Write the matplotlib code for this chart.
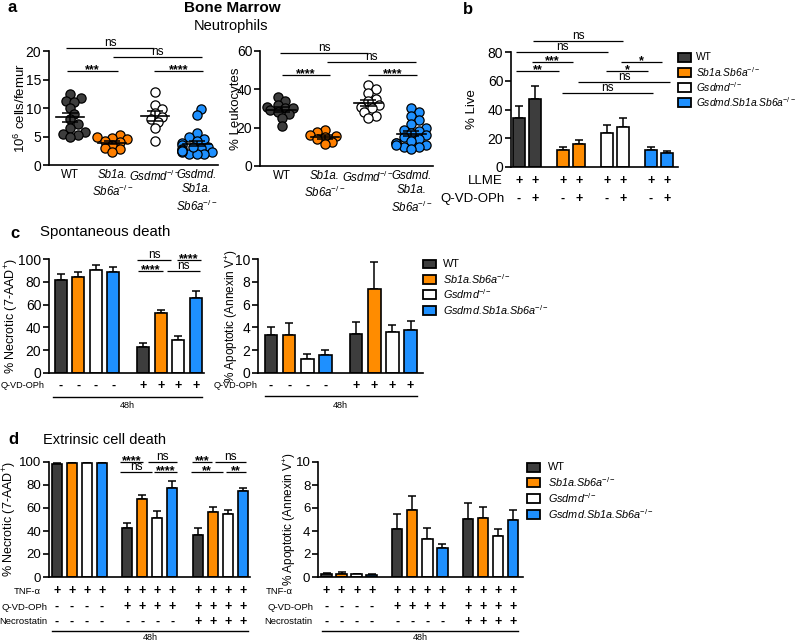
import numpy as np
import matplotlib
matplotlib.use("Agg")
import matplotlib.pyplot as plt
from matplotlib.patches import Rectangle
from matplotlib.lines import Line2D
from matplotlib.transforms import blended_transform_factory

plt.rcParams['font.family'] = ['Liberation Sans', 'DejaVu Sans']
plt.rcParams['mathtext.fontset'] = 'custom'
plt.rcParams['mathtext.rm'] = 'Liberation Sans'
plt.rcParams['mathtext.it'] = 'Liberation Sans:italic'
plt.rcParams['mathtext.bf'] = 'Liberation Sans:bold'

# ---------------- data ----------------
genotypes = ["WT", "Sb1a.Sb6a-/-", "Gsdmd-/-", "Gsdmd.Sb1a.Sb6a-/-"]
geno_colors = ["#3d3d3d", "#FF8C00", "#FFFFFF", "#1E90FF"]
point_colors = ["#3d3d3d", "#FF7F00", "#FFFFFF", "#1E90FF"]

# panel a: neutrophil counts (10^6 cells/femur)
a_count_wt = [12.5, 11.8, 11.2, 11.0, 10.0, 9.0, 8.0, 7.2, 6.5, 5.8, 5.5, 5.2, 5.0]
a_count_sb = [5.2, 5.0, 4.8, 4.5, 4.2, 4.0, 3.5, 3.0, 2.8, 2.2]
a_count_gs = [12.8, 10.6, 9.8, 9.2, 8.5, 8.0, 7.5, 6.5, 4.2]
a_count_gsb = [9.8, 8.8, 5.6, 5.0, 4.6, 4.2, 3.8, 3.5, 3.2, 3.0, 2.8, 2.6,
               2.4, 2.2, 2.0, 2.0, 1.9, 2.3, 3.1, 2.5]
# panel a: % leukocytes
a_pct_wt = [36, 34, 32, 31, 30, 30, 29, 28, 27, 25, 21]
a_pct_sb = [19, 17.5, 16, 15.5, 15, 14, 12.5, 11.5]
a_pct_gs = [42, 40, 38, 35, 34, 32, 31, 30, 28, 26, 25]
a_pct_gsb = [30, 28, 26, 24, 22, 20, 19, 18, 17, 16, 15, 14, 13, 12, 11,
             10, 10, 9, 12, 11]

# panel b: % live
b_mean = [34, 47, 12, 16, 23.5, 28, 12, 10]
b_err = [8.5, 9.5, 2, 3, 5.5, 6, 1.8, 1.4]
b_geno = [0, 0, 1, 1, 2, 2, 3, 3]
b_llme = ["+", "+", "+", "+", "+", "+", "+", "+"]
b_qvd = ["-", "+", "-", "+", "-", "+", "-", "+"]

# panel c: spontaneous death
c_necrotic = [82, 84, 90.5, 89, 22.5, 52.5, 29, 65.5]
c_necrotic_err = [4.5, 4.5, 4, 3.8, 3.5, 2.8, 3.5, 6]
c_apoptotic = [3.3, 3.3, 1.2, 1.6, 3.4, 7.4, 3.6, 3.8]
c_apoptotic_err = [0.75, 1.05, 0.45, 0.4, 1.1, 2.35, 0.6, 0.8]
c_qvd = ["-", "-", "-", "-", "+", "+", "+", "+"]

# panel d: extrinsic cell death
d_necrotic = [98, 99, 99.5, 99.5, 43, 67.5, 51.5, 77.5, 36.5, 56.5, 54.5, 74.5]
d_necrotic_err = [1, 0.6, 0.2, 0.2, 4, 3.5, 5.5, 6, 6.5, 4.5, 3.5, 3]
d_apoptotic = [0.25, 0.3, 0.25, 0.2, 4.2, 5.8, 3.3, 2.55, 5.05, 5.15, 3.6, 5.0]
d_apoptotic_err = [0.08, 0.15, 0.05, 0.05, 1.3, 1.25, 0.95, 0.35, 1.4, 0.9, 0.55, 0.85]
d_tnf = ["+"] * 12
d_qvd = ["-", "-", "-", "-", "+", "+", "+", "+", "+", "+", "+", "+"]
d_nec = ["-", "-", "-", "-", "-", "-", "-", "-", "+", "+", "+", "+"]

# ---------------- labels ----------------
KO = r"$^{-/-}$"
legend_labels = ["WT", "Sb1a.Sb6a" + KO, "Gsdmd" + KO, "Gsdmd.Sb1a.Sb6a" + KO]
legend_italic = [False, True, True, True]
a_ticklabels = ["WT", "Sb1a.\nSb6a" + KO, "Gsdmd" + KO, "Gsdmd.\nSb1a.\nSb6a" + KO]

W, H = 800, 643
fig = plt.figure(figsize=(W / 100, H / 100), dpi=100)


def box(l, t, r, b):
    return [l / W, 1 - b / H, (r - l) / W, (b - t) / H]


def style(ax, ymax, yticks, fs):
    ax.set_ylim(0, ymax)
    ax.set_yticks(yticks)
    for s in ["top", "right"]:
        ax.spines[s].set_visible(False)
    for s in ["left", "bottom"]:
        ax.spines[s].set_linewidth(1.2)
    ax.tick_params(axis="y", length=4, width=1.2, labelsize=fs, pad=1.5)
    ax.patch.set_alpha(0)


def ylabel_at(ax, text, px_right, fs):
    bb = ax.get_position()
    ax.set_ylabel(text, fontsize=fs)
    ax.yaxis.set_label_coords((px_right / W - bb.x0) / bb.width, 0.5)


def sig(ax, x0, x1, y, label, fs=8.5):
    ax.plot([x0, x1], [y, y], color="black", lw=0.9, clip_on=False,
            solid_capstyle="butt")
    star = "*" in label
    ax.annotate(label, ((x0 + x1) / 2, y), xytext=(0, -1.6 if star else 1.3),
                textcoords="offset points", ha="center", va="baseline",
                fontsize=fs + (0.5 if star else 0),
                fontweight="bold" if star else "normal",
                annotation_clip=False)


def swarm(vals, ppu_x, ppu_y, diam=9.0):
    vals = np.asarray(vals, float)
    order = np.argsort(vals)
    placed = []
    offs = np.zeros(len(vals))
    for i in order:
        y = vals[i] * ppu_y
        for k in [0, 1, -1, 2, -2, 3, -3, 4, -4]:
            x = k * diam * 0.42
            if all((x - px) ** 2 + (y - py) ** 2 >= (diam * 0.72) ** 2 for px, py in placed):
                break
        placed.append((x, y))
        offs[i] = x / ppu_x
    return offs


def scatter_panel(ax, groups, ppu_x, ppu_y):
    for i, vals in enumerate(groups):
        offs = swarm(vals, ppu_x, ppu_y)
        ax.scatter(i + offs, vals, s=44, c=point_colors[i], edgecolors="black",
                   linewidths=0.9, zorder=2, clip_on=False)
        m = np.mean(vals)
        sem = np.std(vals, ddof=1) / np.sqrt(len(vals))
        ax.plot([i - 0.33, i + 0.33], [m, m], color="black", lw=1.2, zorder=3)
        ax.errorbar([i], [m], yerr=[sem], fmt="none", ecolor="black",
                    elinewidth=1.1, capsize=6, capthick=1.1, zorder=3)
    ax.set_xlim(-0.5, 3.5)
    ax.set_xticks(range(4))
    ax.set_xticklabels(a_ticklabels, fontsize=8.3, linespacing=1.25)
    for lab, it in zip(ax.get_xticklabels(), legend_italic):
        lab.set_fontstyle("italic" if it else "normal")
    ax.tick_params(axis="x", length=0, pad=3)


def bar_panel(ax, xs, vals, errs, colors, width):
    ax.bar(xs, vals, width=width, color=colors, edgecolor="black",
           linewidth=1.2, zorder=2)
    ax.errorbar(xs, vals, yerr=[np.zeros(len(errs)), errs], fmt="none",
                ecolor="black", elinewidth=1.1, capsize=3, capthick=1.1,
                zorder=1)
    ax.set_xticks([])


def rows(ax, xs, signs, py, label, label_px, fs_label=7.5, fs_sign=9):
    tr = blended_transform_factory(ax.transData, fig.transFigure)
    for x, s in zip(xs, signs):
        ax.text(x, 1 - py / H, s, transform=tr, ha="center", va="center",
                fontsize=fs_sign, fontweight="bold", clip_on=False)
    fig.text(label_px / W, 1 - py / H, label, ha="right", va="center",
             fontsize=fs_label)


def underline(ax, x0, x1, py, text_py, text="48h"):
    tr = blended_transform_factory(ax.transData, fig.transFigure)
    ax.add_line(Line2D([x0, x1], [1 - py / H] * 2, transform=tr, color="black",
                       lw=1.0, clip_on=False))
    ax.text((x0 + x1) / 2, 1 - text_py / H, text, transform=tr, ha="center",
            va="center", fontsize=6.5, clip_on=False)


def legend_at(sq_px, text_px, ys, fs=7.8):
    for col, lab, it, py in zip(geno_colors, legend_labels, legend_italic, ys):
        fig.add_artist(Rectangle((sq_px / W, 1 - (py + 4.5) / H), 13 / W, 9 / H,
                                 transform=fig.transFigure, facecolor=col,
                                 edgecolor="black", lw=1.3))
        fig.text(text_px / W, 1 - py / H, lab, ha="left", va="center", fontsize=fs,
                 fontstyle="italic" if it else "normal")


# ---------------- titles ----------------
fig.text(8 / W, 1 - 8 / H, "a", fontsize=12, fontweight="bold", va="center")
fig.text(463 / W, 1 - 9 / H, "b", fontsize=12, fontweight="bold", va="center")
fig.text(232 / W, 1 - 8 / H, "Bone Marrow", fontsize=11, fontweight="bold",
         ha="center", va="center")
fig.text(231 / W, 1 - 26 / H, "Neutrophils", fontsize=10.5, ha="center", va="center")
fig.text(10 / W, 1 - 233 / H, "c", fontsize=12, fontweight="bold", va="center")
fig.text(40 / W, 1 - 232 / H, "Spontaneous death", fontsize=10.8, va="center")
fig.text(8 / W, 1 - 440 / H, "d", fontsize=12, fontweight="bold", va="center")
fig.text(43 / W, 1 - 440 / H, "Extrinsic cell death", fontsize=10.5, va="center")

# ---------------- panel a ----------------
ax = fig.add_axes(box(49, 51, 218, 165))
style(ax, 20, [0, 5, 10, 15, 20], 10)
scatter_panel(ax, [a_count_wt, a_count_sb, a_count_gs, a_count_gsb], 42.25, 5.7)
ylabel_at(ax, r"10$^{6}$ cells/femur", 28, 9.5)
sig(ax, -0.1, 1.99, 20.5, "ns")
sig(ax, 1.02, 3.12, 18.9, "ns")
sig(ax, -0.07, 1.13, 16.5, "***")
sig(ax, 1.99, 3.15, 16.5, "****")

ax = fig.add_axes(box(260, 51, 433, 166))
style(ax, 60, [0, 20, 40, 60], 10)
scatter_panel(ax, [a_pct_wt, a_pct_sb, a_pct_gs, a_pct_gsb], 43.25, 1.917)
ylabel_at(ax, "% Leukocytes", 242, 9.5)
sig(ax, -0.04, 2.0, 59, "ns")
sig(ax, 1.05, 3.1, 54.3, "ns")
sig(ax, 0.01, 1.12, 47.5, "****")
sig(ax, 2.0, 3.13, 47.5, "****")

# ---------------- panel b ----------------
ax = fig.add_axes(box(511, 52, 678, 167))
style(ax, 80, [0, 20, 40, 60, 80], 10)
bx = np.array([g * 2.75 + (i % 2) for i, g in enumerate(b_geno)], float)
bar_panel(ax, bx, b_mean, b_err, [geno_colors[g] for g in b_geno], 0.75)
ax.set_xlim(-0.5, 9.94)
ylabel_at(ax, "% Live", 478, 9.5)
sig(ax, 0.875, 6.5, 87.7, "ns")
sig(ax, -0.19, 5.56, 80, "ns")
sig(ax, 0.81, 3.375, 73, "***")
sig(ax, -0.19, 2.5, 66.8, "**")
sig(ax, 6.375, 8.94, 73, "*")
sig(ax, 5.44, 8.06, 66.8, "*")
sig(ax, 3.69, 9.44, 59.1, "ns")
sig(ax, 2.69, 8.375, 51.5, "ns")
rows(ax, bx, b_llme, 181, "LLME", 503, fs_label=9.5)
rows(ax, bx, b_qvd, 199, "Q-VD-OPh", 505, fs_label=9.5)
legend_at(678, 696, [57, 72, 87, 102], fs=7.4)

# ---------------- panel c ----------------
cx = np.array([0, 1, 2, 3, 4.7, 5.7, 6.7, 7.7])
ccol = geno_colors * 2

ax = fig.add_axes(box(49, 259, 204, 373))
style(ax, 100, [0, 20, 40, 60, 80, 100], 10)
bar_panel(ax, cx, c_necrotic, c_necrotic_err, ccol, 0.69)
ax.set_xlim(-0.66, 8.16)
ylabel_at(ax, r"% Necrotic (7-AAD$^{+}$)", 21, 9)
sig(ax, 4.37, 6.26, 99, "ns")
sig(ax, 6.6, 7.97, 99, "****")
sig(ax, 4.43, 5.8, 89.5, "****")
sig(ax, 6.03, 7.91, 89.5, "ns")
rows(ax, cx, c_qvd, 386, "Q-VD-OPh", 45, fs_label=6.6)
underline(ax, -0.45, 8.05, 397, 406)

ax = fig.add_axes(box(258, 259, 423, 373))
style(ax, 10, [0, 2, 4, 6, 8, 10], 10)
bar_panel(ax, cx, c_apoptotic, c_apoptotic_err, ccol, 0.69)
ax.set_xlim(-0.72, 8.39)
ylabel_at(ax, r"% Apoptotic (Annexin V$^{+}$)", 240, 8.5)
rows(ax, cx, c_qvd, 386, "Q-VD-OPh", 258, fs_label=6.6)
underline(ax, -0.35, 8.05, 396, 406)
legend_at(423, 443, [264, 279, 294, 310], fs=7.8)

# ---------------- panel d ----------------
dx = np.array([0, 1, 2, 3, 4.7, 5.7, 6.7, 7.7, 9.4, 10.4, 11.4, 12.4])
dcol = geno_colors * 3

ax = fig.add_axes(box(49, 462, 250, 577))
style(ax, 100, [0, 20, 40, 60, 80, 100], 9.5)
bar_panel(ax, dx, d_necrotic, d_necrotic_err, dcol, 0.67)
ax.set_xlim(-0.53, 12.87)
ylabel_at(ax, r"% Necrotic (7-AAD$^{+}$)", 19, 9)
sig(ax, 4.2, 5.73, 100.3, "****")
sig(ax, 6.07, 8.0, 100.3, "ns")
sig(ax, 4.2, 6.33, 91.6, "ns")
sig(ax, 6.47, 8.0, 91.6, "****")
sig(ax, 9.0, 10.33, 100.3, "***")
sig(ax, 10.53, 12.6, 100.3, "ns")
sig(ax, 8.93, 11.07, 91.6, "**")
sig(ax, 11.27, 12.6, 91.6, "**")
rows(ax, dx, d_tnf, 591, "TNF-α", 41, fs_label=6.8)
rows(ax, dx, d_qvd, 607, "Q-VD-OPh", 48, fs_label=6.8)
rows(ax, dx, d_nec, 622, "Necrostatin", 47, fs_label=6.8)
underline(ax, -0.35, 12.75, 631, 638)

ax = fig.add_axes(box(318, 462, 523, 577))
style(ax, 10, [0, 2, 4, 6, 8, 10], 9.5)
bar_panel(ax, dx, d_apoptotic, d_apoptotic_err, dcol, 0.7)
ax.set_xlim(-0.57, 13.07)
ylabel_at(ax, r"% Apoptotic (Annexin V$^{+}$)", 298, 8.5)
rows(ax, dx, d_tnf, 591, "TNF-α", 293, fs_label=6.8)
rows(ax, dx, d_qvd, 607, "Q-VD-OPh", 313, fs_label=6.8)
rows(ax, dx, d_nec, 622, "Necrostatin", 312, fs_label=6.8)
underline(ax, -0.3, 12.75, 631, 638)
legend_at(527, 548, [467, 482, 498, 514], fs=7.8)

fig.savefig("out.png", dpi=100)
